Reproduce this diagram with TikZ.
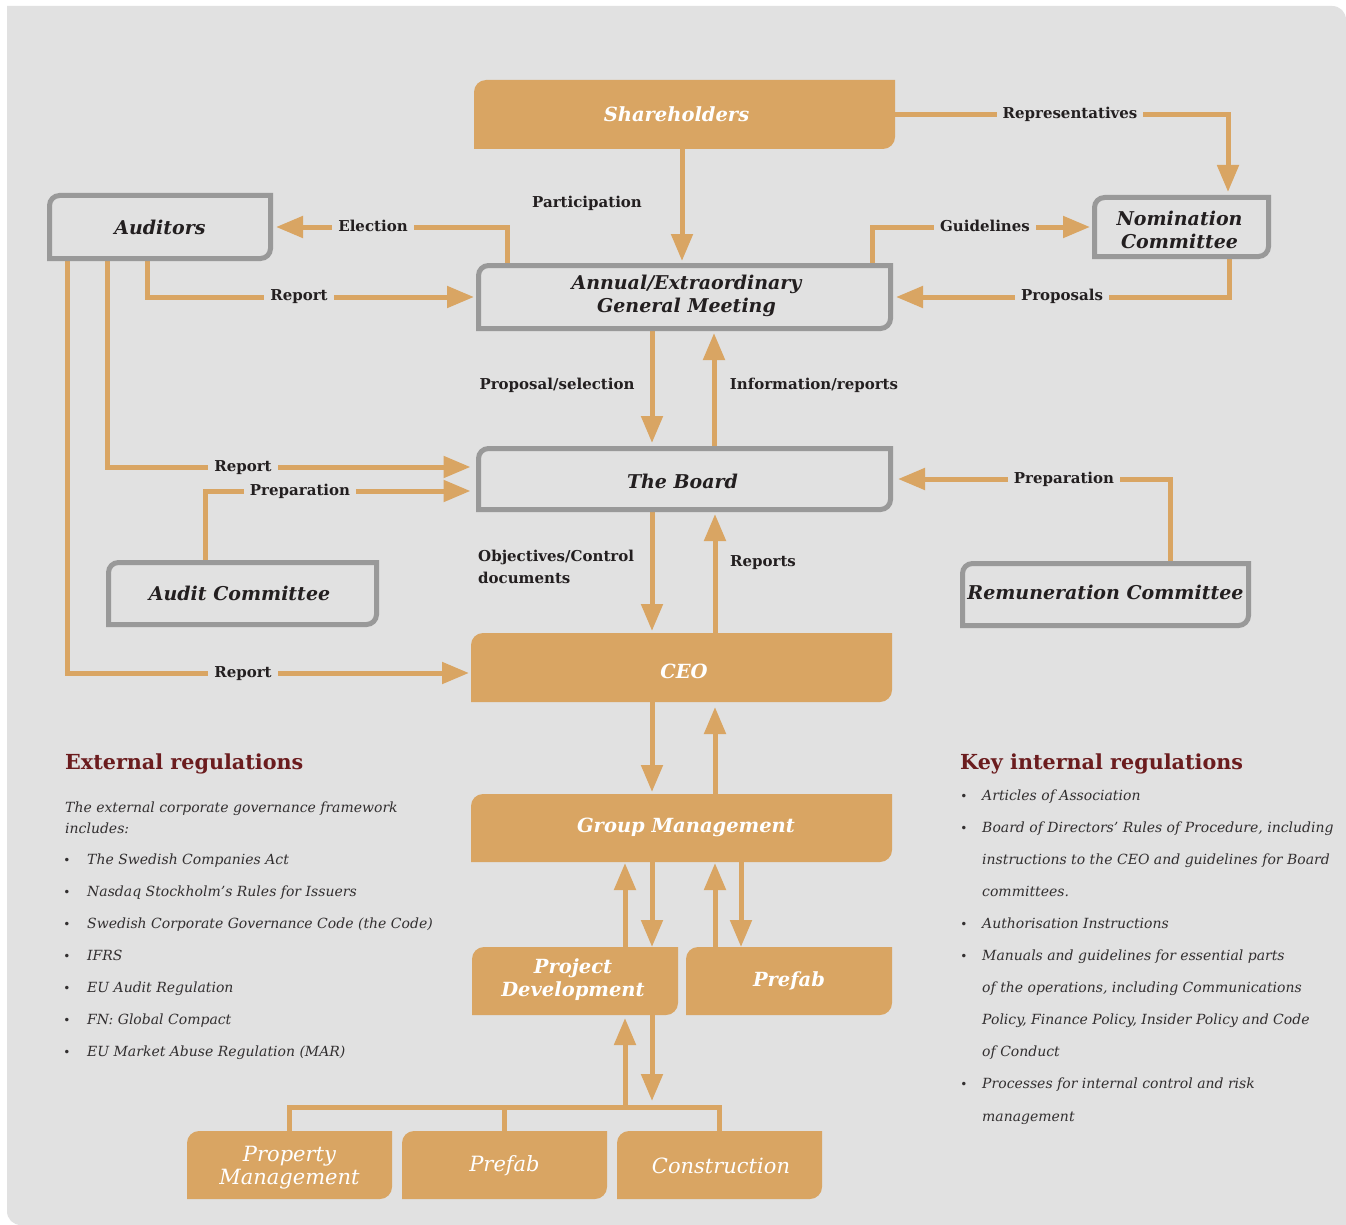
\documentclass[tikz,border=0pt]{standalone}
\usepackage{fontspec}
\setmainfont{DejaVu Serif}
\usetikzlibrary{arrows.meta,calc}
\definecolor{bg}{RGB}{225,225,225}
\definecolor{org}{RGB}{217,165,99}
\definecolor{gbord}{RGB}{153,153,153}
\definecolor{txt}{RGB}{35,31,32}
\definecolor{listtxt}{RGB}{50,47,48}
\definecolor{hred}{RGB}{107,28,30}
\newcommand{\tlbr}[2]{($(#1.south west)$) -- ($(#1.north west)+(0,#2)$) .. controls ($(#1.north west)+(0,0.45*#2)$) and ($(#1.north west)+(0.45*#2,0)$) .. ($(#1.north west)+(#2,0)$) -- (#1.north east) -- ($(#1.south east)+(0,-#2)$) .. controls ($(#1.south east)+(0,-0.45*#2)$) and ($(#1.south east)+(-0.45*#2,0)$) .. ($(#1.south east)+(-#2,0)$) -- cycle}
\tikzset{
  geo/.style={draw=none, fill=none, inner sep=0pt, outer sep=0pt},
  conn/.style={draw=org, line width=5pt, -{Triangle[width=21pt,length=27pt]}},
  plainline/.style={draw=org, line width=5pt},
  grayline/.style={draw=gbord, line width=5pt},
  lbl/.style={font=\bfseries\fontsize{15}{17}\selectfont, text=txt, fill=bg, inner xsep=6pt, inner ysep=3pt, text height=11pt, text depth=3pt},
  plbl/.style={font=\bfseries\fontsize{15}{22}\selectfont, text=txt, inner sep=0pt},
  gttl/.style={font=\bfseries\itshape\fontsize{19}{23}\selectfont, text=txt, align=center, inner sep=0pt},
  wttl/.style={font=\bfseries\itshape\fontsize{19.5}{23}\selectfont, text=white, align=center, inner sep=0pt},
  wlt/.style={font=\itshape\fontsize{21}{23}\selectfont, text=white, align=center, inner sep=0pt},
  head/.style={font=\bfseries\fontsize{20.7}{24}\selectfont, text=hred, anchor=west, inner sep=0pt, text height=15pt, text depth=4pt},
  ltx/.style={font=\itshape\fontsize{14}{16}\selectfont, text=listtxt, anchor=west, inner sep=0pt, text height=10.5pt, text depth=3pt},
  bul/.style={font=\fontsize{12}{14}\selectfont, text=listtxt, inner sep=0pt}
}
\begin{document}
\begin{tikzpicture}[x=1pt,y=-1pt]
\useasboundingbox (0,0) rectangle (1346,1225);
\fill[white] (0,0) rectangle (1346,1225);
\fill[bg] (7,6) -- (1332,6) .. controls (1340,6) and (1346,12) .. (1346,20) -- (1346,1225) -- (21,1225) .. controls (13,1225) and (7,1219) .. (7,1211) -- cycle;

% geometry nodes
\node[geo, minimum width=421pt, minimum height=69pt] (sh) at (684.5,114.5) {};
\node[geo, minimum width=221pt, minimum height=63pt] (aud) at (160,227) {};
\node[geo, minimum width=412pt, minimum height=63pt] (agm) at (684.5,297) {};
\node[geo, minimum width=174pt, minimum height=59pt] (nom) at (1181.5,227) {};
\node[geo, minimum width=412pt, minimum height=61pt] (board) at (684.5,479) {};
\node[geo, minimum width=268pt, minimum height=62pt] (ac) at (242.5,593.5) {};
\node[geo, minimum width=286pt, minimum height=62pt] (rem) at (1105.5,594.5) {};
\node[geo, minimum width=421pt, minimum height=69pt] (ceo) at (681.5,667.5) {};
\node[geo, minimum width=421pt, minimum height=68pt] (gm) at (681.5,828) {};
\node[geo, minimum width=206pt, minimum height=68pt] (pd) at (575,981) {};
\node[geo, minimum width=206pt, minimum height=68pt] (pf) at (789,981) {};
\node[geo, minimum width=205pt, minimum height=68pt] (pm) at (289.5,1165) {};
\node[geo, minimum width=205pt, minimum height=68pt] (pf2) at (504.5,1165) {};
\node[geo, minimum width=205pt, minimum height=68pt] (con) at (719.5,1165) {};
\coordinate (bar) at (625,1107.5);

% connectors
\draw[conn, shorten >=4.5pt] ([xshift=-2.5pt]sh.south) -- ([xshift=-2.5pt]agm.north);
\draw[conn, shorten >=5.5pt] (sh.east) -| ([xshift=46.5pt]nom.north);
\draw[conn, shorten >=4.5pt] ([xshift=-18.5pt]agm.north east) |- (nom.west);
\draw[conn, shorten >=5.5pt] ([xshift=47.5pt]nom.south) |- (agm.east);
\draw[conn, shorten >=5.5pt] ([xshift=28.5pt]agm.north west) |- (aud.east);
\draw[conn, shorten >=4.5pt] ([xshift=97.5pt]aud.south west) |- (agm.west);
\draw[conn, shorten >=8pt] ([xshift=57.5pt]aud.south west) |- ([yshift=12pt]board.west);
\draw[conn, shorten >=8pt] ([xshift=96.5pt]ac.north west) |- ([yshift=-12pt]board.west);
\draw[conn, shorten >=2pt] ([xshift=17.5pt]aud.south west) |- ([yshift=-5.5pt]ceo.west);
\draw[conn, shorten >=7.5pt] ([xshift=64.5pt]rem.north) |- (board.east);
\draw[conn, shorten >=5.5pt] ([xshift=-32.5pt]agm.south) -- ([xshift=-32.5pt]board.north);
\draw[conn, shorten >=4.5pt] ([xshift=29.5pt]board.north) -- ([xshift=29.5pt]agm.south);
\draw[conn, shorten >=2pt] ([xshift=-32.5pt]board.south) -- ([xshift=-29.5pt]ceo.north);
\draw[conn, shorten >=4.5pt] ([xshift=33.5pt]ceo.north) -- ([xshift=30.5pt]board.south);
\draw[conn, shorten >=2pt] ([xshift=-29.5pt]ceo.south) -- ([xshift=-29.5pt]gm.north);
\draw[conn, shorten >=5pt] ([xshift=33.5pt]gm.north) -- ([xshift=33.5pt]ceo.south);
\draw[conn, shorten >=1pt] ([xshift=50pt]pd.north) -- ([xshift=-56.5pt]gm.south);
\draw[conn] ([xshift=-29.5pt]gm.south) -- ([xshift=77pt]pd.north);
\draw[conn, shorten >=1pt] ([xshift=-74pt]pf.north) -- ([xshift=33.5pt]gm.south);
\draw[conn] ([xshift=59.5pt]gm.south) -- ([xshift=-48pt]pf.north);
\draw[plainline] (pm.north) |- (bar) -| (con.north);
\draw[plainline] (pf2.north) -- (pf2.north |- bar);
\draw[conn, shorten >=3pt] ([yshift=2.5pt]bar) -- ([xshift=50pt]pd.south);
\draw[conn, shorten >=6.5pt] ([xshift=77pt]pd.south) -- ([xshift=27pt]bar);

% box shapes
\fill[org] \tlbr{sh}{12};
\fill[org] \tlbr{ceo}{12};
\fill[org] \tlbr{gm}{12};
\fill[org] \tlbr{pd}{12};
\fill[org] \tlbr{pf}{12};
\fill[org] \tlbr{pm}{12};
\fill[org] \tlbr{pf2}{12};
\fill[org] \tlbr{con}{12};
\draw[grayline] \tlbr{aud}{10};
\draw[grayline] \tlbr{agm}{10};
\draw[grayline] \tlbr{nom}{10};
\draw[grayline] \tlbr{board}{10};
\draw[grayline] \tlbr{ac}{10};
\draw[grayline] \tlbr{rem}{10};

% connector labels
\node[lbl] (l-rep) at (1070,115) {Representatives};
\node[lbl] (l-gui) at (985,228) {Guidelines};
\node[lbl] (l-pro) at (1062,296) {Proposals};
\node[lbl] (l-ele) at (373,227) {Election};
\node[lbl] (l-r1) at (299,296) {Report};
\node[lbl] (l-r2) at (243,467) {Report};
\node[lbl] (l-prep) at (300,491) {Preparation};
\node[lbl] (l-r3) at (243,673) {Report};
\node[lbl] (l-prep2) at (1064,479) {Preparation};
\node[plbl] (l-par) at (587,203) {Participation};
\node[plbl] (l-ps) at (557,385) {Proposal/selection};
\node[plbl] (l-ir) at (814,385) {Information/reports};
\node[plbl, anchor=west, align=left] (l-obj) at (478,567) {Objectives/Control\\documents};
\node[plbl] (l-reps) at (763,563) {Reports};

% box texts
\node[wttl] (t-sh) at ([xshift=-8pt]sh) {Shareholders};
\node[gttl] (t-aud) at (aud) {Auditors};
\node[gttl] (t-agm) at ([xshift=2pt,yshift=1.5pt]agm) {Annual/Extraordinary\\General Meeting};
\node[gttl] (t-nom) at ([xshift=-2pt,yshift=-3pt]nom) {Nomination\\Committee};
\node[gttl] (t-board) at ([xshift=-2pt,yshift=-2pt]board) {The Board};
\node[gttl] (t-ac) at ([xshift=-3pt]ac) {Audit Committee};
\node[gttl] (t-rem) at ([yshift=2pt]rem) {Remuneration Committee};
\node[wttl] (t-ceo) at ([xshift=2.5pt,yshift=-3.5pt]ceo) {CEO};
\node[wttl] (t-gm) at ([xshift=4.5pt,yshift=1pt]gm) {Group Management};
\node[wttl] (t-pd) at ([xshift=-2pt,yshift=1.5pt]pd) {Project\\Development};
\node[wttl] (t-pf) at (pf) {Prefab};
\node[wlt] (t-pm) at ([yshift=-2.5pt]pm) {Property\\Management};
\node[wlt] (t-pf2) at ([yshift=-1pt]pf2) {Prefab};
\node[wlt] (t-con) at ([xshift=1.5pt,yshift=-1pt]con) {Construction};

% external regulations
\node[head] (h-ext) at (65,764) {External regulations};
\node[ltx] (e0) at (65,809) {The external corporate governance framework};
\node[ltx] (e0b) at (65,830) {includes:};
\foreach \i/\yy/\t in {1/861/The Swedish Companies Act, 2/893/Nasdaq Stockholm’s Rules for Issuers, 3/925/Swedish Corporate Governance Code (the Code), 4/957/IFRS, 5/989/EU Audit Regulation, 6/1021/FN: Global Compact, 7/1053/EU Market Abuse Regulation (MAR)} {
  \node[bul] (eb\i) at (67,\yy) {•};
  \node[ltx] (e\i) at (87,\yy) {\t};
}

% key internal regulations
\node[head] (h-int) at (960,764) {Key internal regulations};
\foreach \i/\yy in {1/797, 2/829, 3/925, 4/957, 5/1085} {
  \node[bul] (ib\i) at (964,\yy) {•};
}
\node[ltx] (i1) at (982,797) {Articles of Association};
\node[ltx] (i2) at (982,829) {Board of Directors’ Rules of Procedure, including};
\node[ltx] (i2b) at (982,861) {instructions to the CEO and guidelines for Board};
\node[ltx] (i2c) at (982,893) {committees.};
\node[ltx] (i3) at (982,925) {Authorisation Instructions};
\node[ltx] (i4) at (982,957) {Manuals and guidelines for essential parts};
\node[ltx] (i4b) at (982,989) {of the operations, including Communications};
\node[ltx] (i4c) at (982,1021) {Policy, Finance Policy, Insider Policy and Code};
\node[ltx] (i4d) at (982,1053) {of Conduct};
\node[ltx] (i5) at (982,1085) {Processes for internal control and risk};
\node[ltx] (i5b) at (982,1118) {management};
\end{tikzpicture}
\end{document}
